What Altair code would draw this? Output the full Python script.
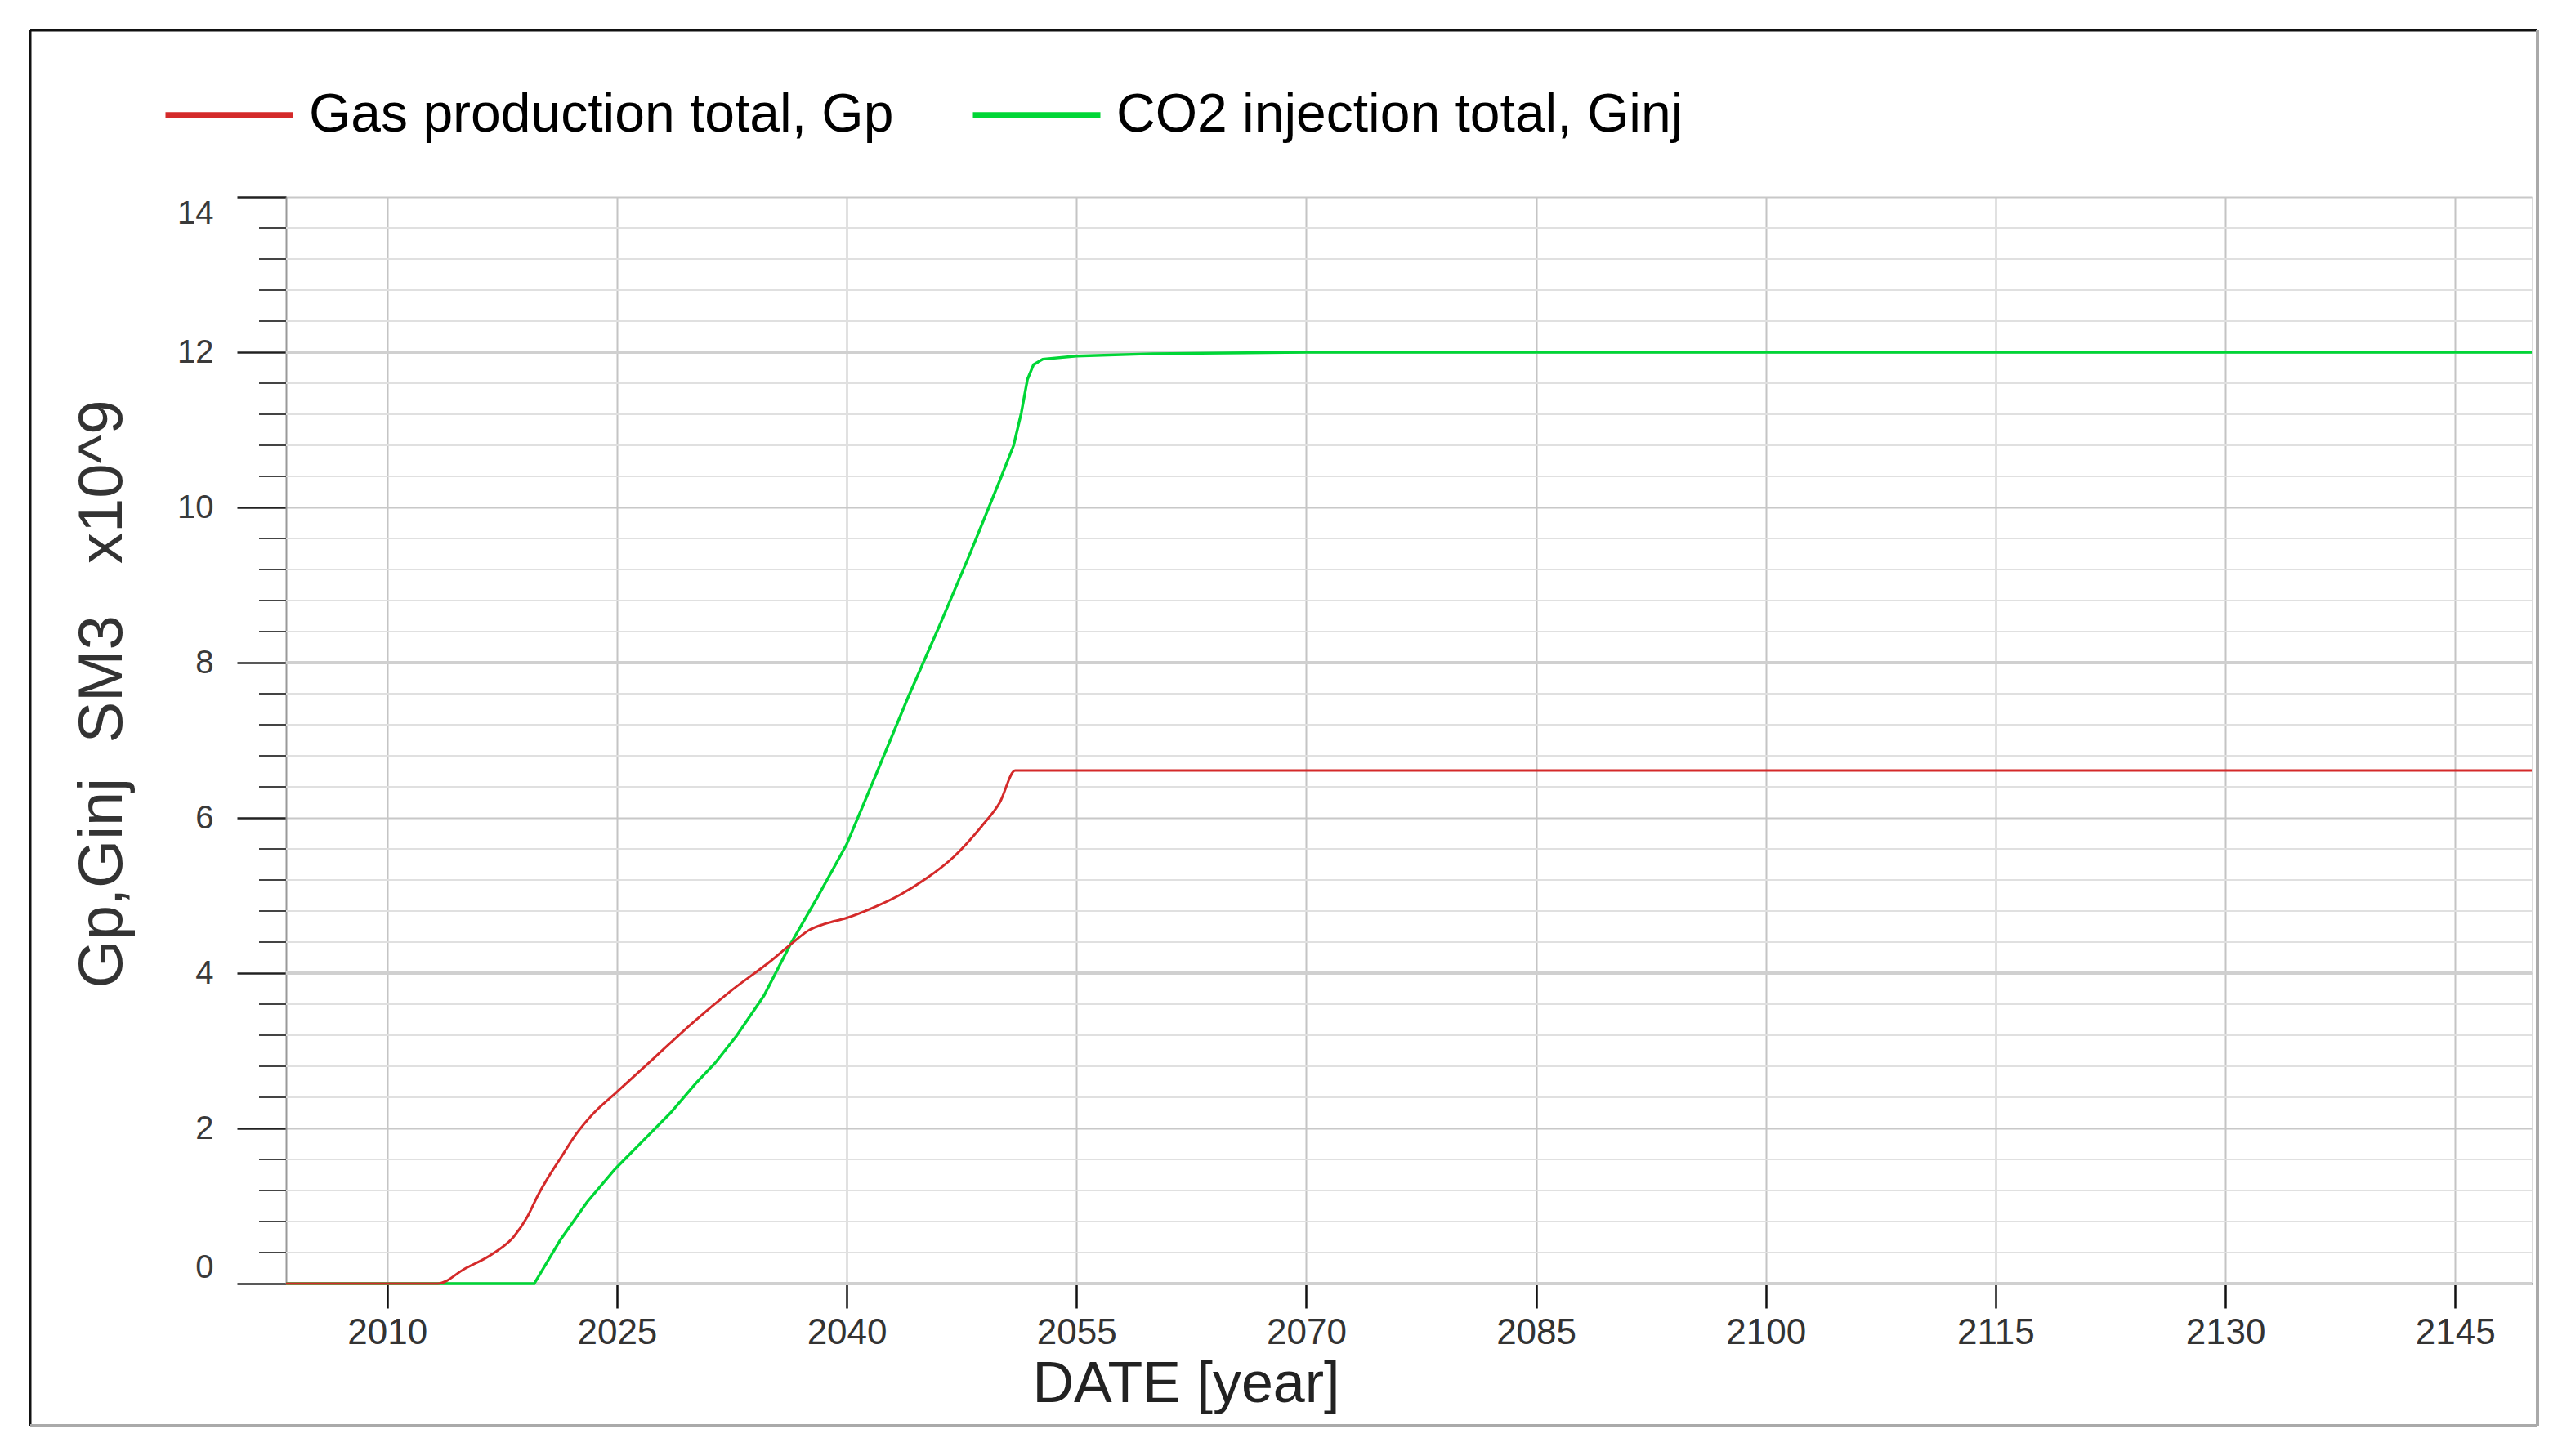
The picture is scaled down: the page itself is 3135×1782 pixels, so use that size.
import altair as alt
import pandas as pd

# ---- data ----
series_names = ["Gas production total, Gp", "CO2 injection total, Ginj"]
series_colors = ["#d42a2a", "#00d636"]

gp_years = [2003.4, 2013.3, 2015.05, 2016.85, 2018.25, 2019.15, 2019.85, 2020.55, 2021.3,
            2022.35, 2023.4, 2025.0, 2027.5, 2030.0, 2032.5, 2035.0, 2036.4, 2037.6,
            2038.5, 2040.0, 2041.7, 2043.5, 2045.2, 2047.0, 2048.8, 2050.0, 2051.0, 2150.0]
gp_values = [0.0, 0.0, 0.19, 0.38, 0.60, 0.86, 1.14, 1.38, 1.61,
             1.93, 2.18, 2.47, 2.92, 3.37, 3.78, 4.15, 4.38, 4.56,
             4.63, 4.71, 4.84, 5.01, 5.22, 5.50, 5.89, 6.20, 6.61, 6.61]

ginj_years = [2003.4, 2019.6, 2021.3, 2023.05, 2024.85, 2026.6, 2028.5, 2030.15, 2031.4,
              2032.8, 2034.6, 2036.35, 2038.1, 2040.0, 2042.0, 2044.0, 2046.0, 2048.0,
              2050.0, 2050.9, 2051.4, 2051.8, 2052.2, 2052.8, 2055.0, 2060.0, 2070.0, 2150.0]
ginj_values = [0.0, 0.0, 0.56, 1.05, 1.47, 1.82, 2.20, 2.58, 2.84,
               3.19, 3.71, 4.38, 4.98, 5.66, 6.60, 7.55, 8.45, 9.38,
               10.35, 10.80, 11.22, 11.65, 11.84, 11.91, 11.95, 11.98, 12.0, 12.0]

x_tick_values = [2010, 2025, 2040, 2055, 2070, 2085, 2100, 2115, 2130, 2145]
x_domain = [2003.4, 2150]
y_major_values = [0, 2, 4, 6, 8, 10, 12, 14]
y_heavy_values = [0, 4, 8, 12]
y_minor_values = [0.4, 0.8, 1.2, 1.6, 2.4, 2.8, 3.2, 3.6, 4.4, 4.8, 5.2, 5.6,
                  6.4, 6.8, 7.2, 7.6, 8.4, 8.8, 9.2, 9.6, 10.4, 10.8, 11.2, 11.6,
                  12.4, 12.8, 13.2, 13.6]
y_domain = [0, 14]
x_title = "DATE [year]"
y_title = "Gp,Ginj\u00a0\u00a0SM3\u00a0\u00a0\u00a0x10^9"

W, H = 2748, 1330

gp_df = pd.DataFrame({"year": gp_years, "value": gp_values, "series": series_names[0]})
ginj_df = pd.DataFrame({"year": ginj_years, "value": ginj_values, "series": series_names[1]})

yscale = alt.Scale(domain=y_domain, nice=False, zero=False)
xscale = alt.Scale(domain=x_domain, nice=False, zero=False)

x_axis = alt.Axis(values=x_tick_values, format="d", title=x_title,
                  titleFontSize=70, titleFontWeight="normal", titleColor="#222222",
                  titleX=1101, titleY=144, titleBaseline="alphabetic", titleAlign="center",
                  labelFontSize=44, labelColor="#333333", labelPadding=8, labelFlush=False,
                  tickSize=30, tickColor="#111111", tickWidth=2.5,
                  domainColor="#888888", domainWidth=3,
                  grid=True, gridColor="#c4c4c4", gridWidth=2)
y_axis = alt.Axis(values=y_major_values, title=y_title,
                  titleFontSize=76, titleFontWeight="normal", titleColor="#333333",
                  titleX=-202, titleY=608, titleBaseline="alphabetic", titleAlign="center",
                  labelFontSize=40, labelColor="#3a3a3a", labelPadding=29, labelFlush=True,
                  tickSize=60, tickColor="#222222", tickWidth=2.5,
                  domainColor="#999999", domainWidth=2,
                  grid=True, gridColor="#c8c8c8", gridWidth=2)

color_enc = alt.Color("series:N", sort=series_names,
                      scale=alt.Scale(domain=series_names, range=series_colors),
                      legend=alt.Legend(title=None, orient="none", legendX=-151, legendY=-182,
                                        direction="horizontal", symbolType="stroke",
                                        symbolSize=24336, symbolStrokeWidth=7,
                                        labelFontSize=66, labelColor="black", labelOffset=16,
                                        columnPadding=82, labelLimit=2000, padding=0))

minor_df = pd.DataFrame({"v": y_minor_values})
heavy_df = pd.DataFrame({"v": y_heavy_values})
one = pd.DataFrame({"k": [0]})

minor_grid = alt.Chart(minor_df).mark_rule(color="#e0e0e0", strokeWidth=2).encode(
    y=alt.Y("v:Q", scale=yscale, axis=y_axis), x=alt.value(0), x2=alt.value(W))
heavy_grid = alt.Chart(heavy_df).mark_rule(color="#d0d0d0", strokeWidth=4).encode(
    y=alt.Y("v:Q", scale=yscale, axis=y_axis), x=alt.value(0), x2=alt.value(W))
minor_ticks = alt.Chart(minor_df).mark_rule(color="#444444", strokeWidth=2).encode(
    y=alt.Y("v:Q", scale=yscale, axis=y_axis), x=alt.value(-33), x2=alt.value(0))

ginj_line = alt.Chart(ginj_df).mark_line(interpolate="linear", strokeWidth=3.4).encode(
    x=alt.X("year:Q", scale=xscale, axis=x_axis),
    y=alt.Y("value:Q", scale=yscale, axis=y_axis),
    color=color_enc,
)
gp_line = alt.Chart(gp_df).mark_line(interpolate="monotone", strokeWidth=3.0).encode(
    x=alt.X("year:Q", scale=xscale, axis=x_axis),
    y=alt.Y("value:Q", scale=yscale, axis=y_axis),
    color=color_enc,
)

frame_left = alt.Chart(one).mark_rule(color="#111111", strokeWidth=3).encode(
    x=alt.value(-313), y=alt.value(-204), y2=alt.value(1504))
frame_top = alt.Chart(one).mark_rule(color="#111111", strokeWidth=3).encode(
    x=alt.value(-313), x2=alt.value(2755), y=alt.value(-204))
frame_right = alt.Chart(one).mark_rule(color="#aaaaaa", strokeWidth=4).encode(
    x=alt.value(2755), y=alt.value(-204), y2=alt.value(1504))
frame_bottom = alt.Chart(one).mark_rule(color="#aaaaaa", strokeWidth=4).encode(
    x=alt.value(-313), x2=alt.value(2755), y=alt.value(1504))

chart = alt.layer(
    minor_grid, heavy_grid, minor_ticks, ginj_line, gp_line,
    frame_left, frame_top, frame_right, frame_bottom
).properties(
    width=W, height=H,
    padding={"left": 27, "top": 27, "right": 5, "bottom": 5},
).configure_view(stroke=None).configure(font="Liberation Sans")

chart.save("out.html", embed_options={"renderer": "svg", "actions": False})
